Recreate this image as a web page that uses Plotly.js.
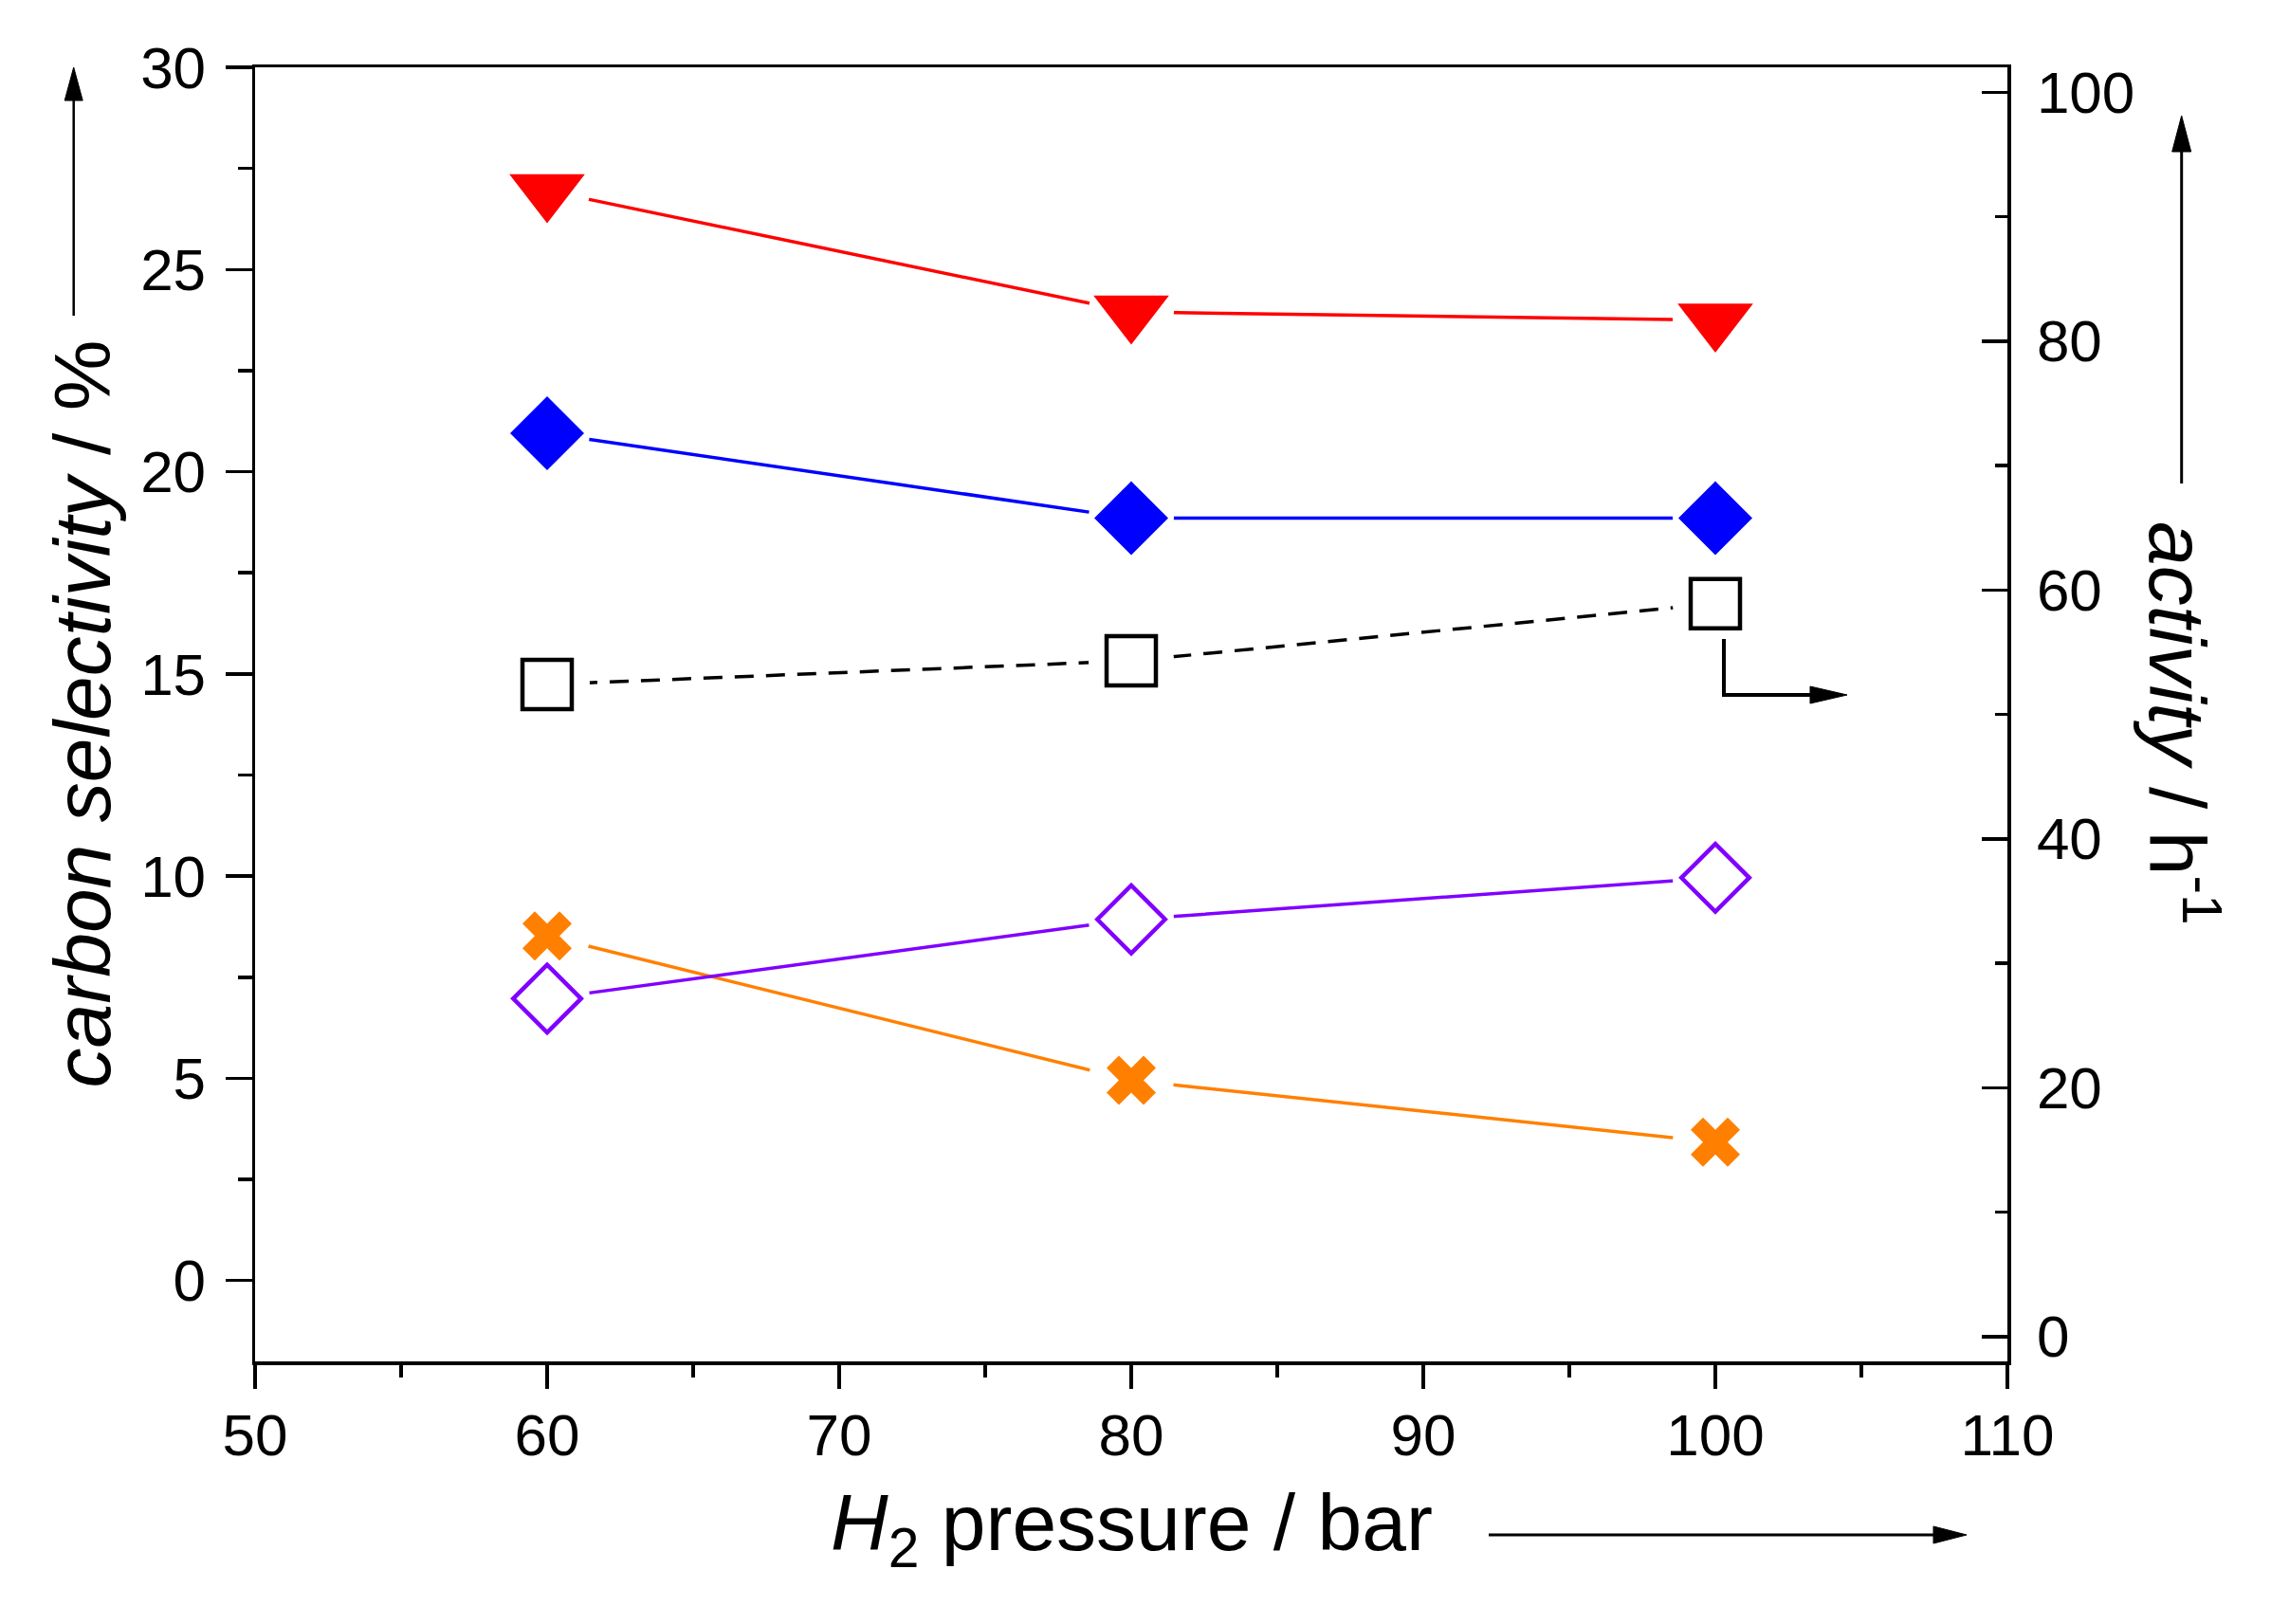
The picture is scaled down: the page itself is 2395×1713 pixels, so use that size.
<!DOCTYPE html>
<html><head><meta charset="utf-8">
<script src="https://cdn.plot.ly/plotly-3.0.1.min.js"></script>
<style>html,body{margin:0;padding:0;background:#fff}</style>
</head><body><div id="chart" style="width:2395px;height:1713px"></div>
<script>
// ---- data ----
const pressure   = [60, 80, 100];            // H2 pressure / bar
const selRed     = [26.95, 23.95, 23.75];    // carbon selectivity / %  (filled down-triangles)
const selBlue    = [20.95, 18.85, 18.85];    // carbon selectivity / %  (filled diamonds)
const selOrange  = [8.52, 4.95, 3.42];       // carbon selectivity / %  (crosses)
const selPurple  = [6.97, 8.93, 9.96];       // carbon selectivity / %  (open diamonds)
const activity   = [52.4, 54.3, 58.9];       // activity / h-1 (open squares, right axis)
const xTickVals  = [50, 60, 70, 80, 90, 100, 110];
const yTickVals  = [0, 5, 10, 15, 20, 25, 30];
const y2TickVals = [0, 20, 40, 60, 80, 100];

// ---- geometry ----
const FIG_W = 2395, FIG_H = 1713;
const M = {l: 269, r: 278, t: 71, b: 277};
const PW = FIG_W - M.l - M.r, PH = FIG_H - M.t - M.b;
const px = v => (v - M.l) / PW;           // pixel -> paper x
const py = v => (M.t + PH - v) / PH;      // pixel -> paper y
const FONT = 'Liberation Sans, Arial, sans-serif';
const TICKF = {family: FONT, size: 62, color: '#000'};
const TITLEF = {family: FONT, size: 84, color: '#000'};
const GAP = 90; // white halo giving the line-to-symbol gap
const AXW = 3.5;

function series(y, color, symbol, size, open, yaxis, dash) {
  return [
    {x: pressure, y: y, yaxis: yaxis, mode: 'lines+markers', type: 'scatter',
     line: {color: color, width: 3.5, dash: dash || 'solid'},
     marker: {symbol: 'circle', size: GAP, color: '#fff', line: {width: 0}},
     hoverinfo: 'skip', showlegend: false},
    {x: pressure, y: y, yaxis: yaxis, mode: 'markers', type: 'scatter',
     marker: open ? {symbol: symbol, size: size, color: color, line: {color: color, width: 4.5}}
                  : {symbol: symbol, size: size, color: color, line: {width: 0}},
     showlegend: false}
  ];
}
const sRed = series(selRed, '#FF0000', 'triangle-down', 69, false, 'y');
const sBlue = series(selBlue, '#0000FF', 'diamond', 60, false, 'y');
const sOrange = series(selOrange, '#FF8000', 'x', 46, false, 'y');
const sPurple = series(selPurple, '#8000FF', 'diamond-open', 55, true, 'y');
const sAct = series(activity, '#000000', 'square-open', 52, true, 'y2', '20px,13px');

const data = [sRed[0], sBlue[0], sOrange[0], sPurple[0],
              sRed[1], sBlue[1], sOrange[1], sPurple[1],
              sAct[0], sAct[1]];

function arrowShapes(x0, y0, x1, y1, headLen, headHalf, lw) {
  // pixel coords; (x1,y1) is the tip
  const dx = x1 - x0, dy = y1 - y0, L = Math.hypot(dx, dy);
  const ux = dx / L, uy = dy / L, nx = -uy, ny = ux;
  const bx = x1 - ux * headLen, by = y1 - uy * headLen;
  return [
    {type: 'line', xref: 'paper', yref: 'paper', x0: px(x0), y0: py(y0), x1: px(bx + ux*2), y1: py(by + uy*2),
     line: {color: '#000', width: lw}},
    {type: 'path', xref: 'paper', yref: 'paper',
     path: 'M' + px(x1) + ',' + py(y1) + ' L' + px(bx + nx*headHalf) + ',' + py(by + ny*headHalf) +
           ' L' + px(bx - nx*headHalf) + ',' + py(by - ny*headHalf) + ' Z',
     fillcolor: '#000', line: {color: '#000', width: 1}}
  ];
}

const shapes = [].concat(
  arrowShapes(77.7, 333, 77.7, 71, 35, 9.5, 2.5),
  arrowShapes(2300.7, 510, 2300.7, 122, 38, 10, 3),
  arrowShapes(1570, 1619, 2074, 1619, 35, 9, 3),
  [{type: 'line', xref: 'paper', yref: 'paper', x0: px(1818), y0: py(674), x1: px(1818), y1: py(733),
    line: {color: '#000', width: 4}}],
  arrowShapes(1816, 733, 1948, 733, 39, 9, 4)
);

const layout = {
  width: FIG_W, height: FIG_H,
  margin: M,
  paper_bgcolor: '#fff', plot_bgcolor: '#fff',
  showlegend: false,
  font: {family: FONT, color: '#000'},
  xaxis: {
    range: [50, 110], tickmode: 'array', tickvals: xTickVals, ticktext: xTickVals.map(String),
    ticks: 'outside', ticklen: 25, tickwidth: AXW, tickcolor: '#000',
    minor: {dtick: 5, tick0: 0, ticks: 'outside', ticklen: 13, tickwidth: AXW, tickcolor: '#000'},
    showline: true, linewidth: AXW, linecolor: '#000', mirror: true,
    showgrid: false, zeroline: false, tickfont: TICKF, ticklabelstandoff: -4, automargin: false
  },
  yaxis: {
    range: [-2, 30], tickmode: 'array', tickvals: yTickVals, ticktext: yTickVals.map(String),
    ticks: 'outside', ticklen: 28, tickwidth: AXW, tickcolor: '#000',
    minor: {dtick: 2.5, tick0: 0, ticks: 'outside', ticklen: 15, tickwidth: AXW, tickcolor: '#000'},
    showline: true, linewidth: AXW, linecolor: '#000', mirror: false,
    showgrid: false, zeroline: false, tickfont: TICKF, ticklabelstandoff: 8, automargin: false
  },
  yaxis2: {
    overlaying: 'y', side: 'right',
    range: [-2, 102], tickmode: 'array', tickvals: y2TickVals, ticktext: y2TickVals.map(String),
    ticks: 'inside', ticklen: 27, tickwidth: AXW, tickcolor: '#000',
    minor: {dtick: 10, tick0: 0, ticks: 'inside', ticklen: 13, tickwidth: AXW, tickcolor: '#000'},
    showline: true, linewidth: AXW, linecolor: '#000',
    showgrid: false, zeroline: false, tickfont: TICKF, ticklabelstandoff: 15, automargin: false
  },
  annotations: [
    {xref: 'paper', yref: 'paper', x: px(86), y: 0.5, xanchor: 'center', yanchor: 'middle',
     textangle: -90, showarrow: false, font: TITLEF, text: '<i>carbon selectivity</i> / %'},
    {xref: 'paper', yref: 'paper', x: 0.5, y: py(1612), xanchor: 'center', yanchor: 'middle',
     showarrow: false, font: TITLEF, text: '<i>H</i><sub>2</sub> pressure / bar'},
    {xref: 'paper', yref: 'paper', x: px(2302), y: py(763), xanchor: 'center', yanchor: 'middle',
     textangle: 90, showarrow: false, font: TITLEF, text: '<i>activity</i> / h<sup>-1</sup>'}
  ],
  shapes: shapes
};

Plotly.newPlot('chart', data, layout, {displayModeBar: false, staticPlot: true});
</script></body></html>
